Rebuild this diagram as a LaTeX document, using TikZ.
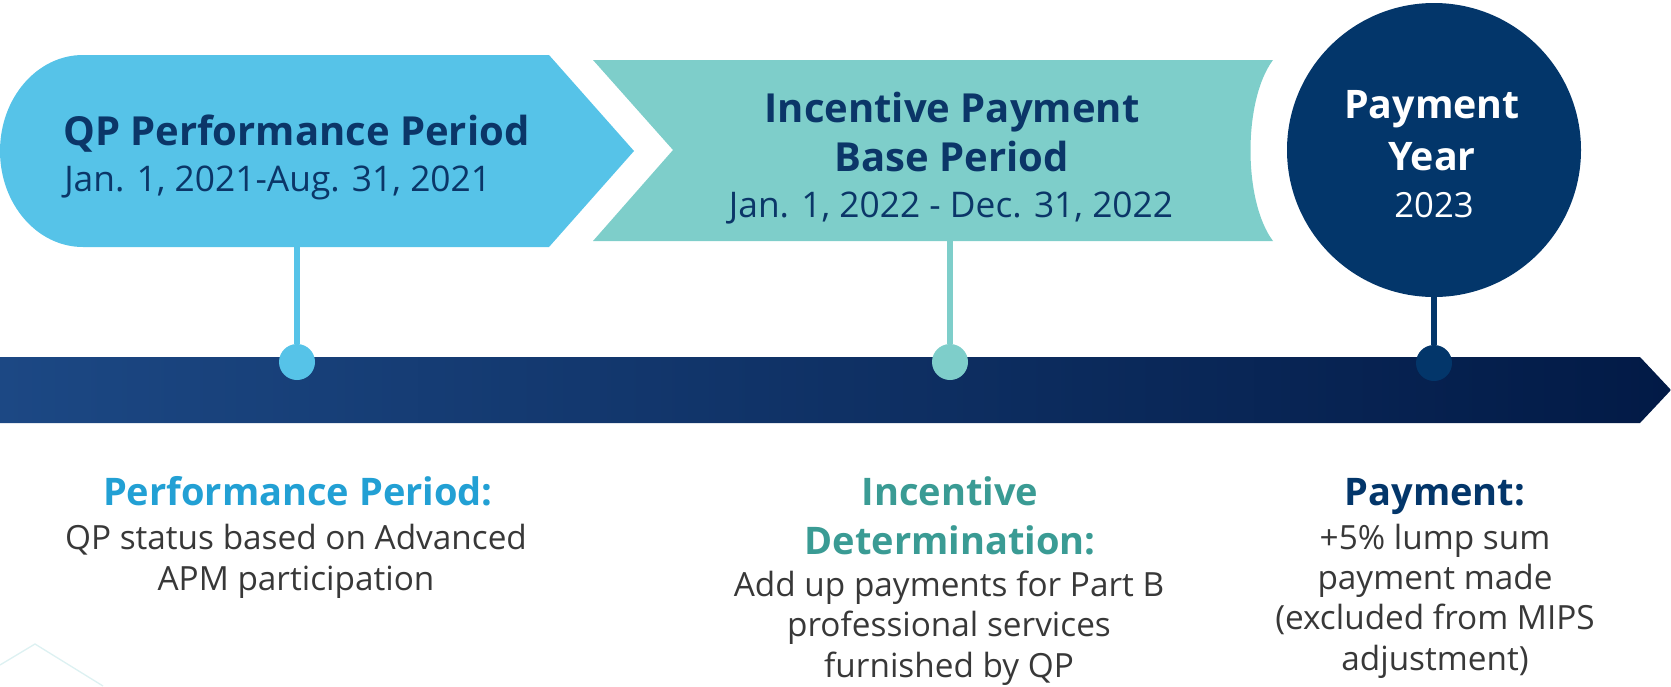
\documentclass[tikz,border=0pt]{standalone}
\usepackage{fontspec}
\setmainfont{Open Sans}
\usepackage{tikz}
\usetikzlibrary{positioning}

\definecolor{qpblue}{HTML}{56C3E8}
\definecolor{baseteal}{HTML}{7ECECA}
\definecolor{paynavy}{HTML}{03366A}
\definecolor{titlenavy}{HTML}{0B3668}
\definecolor{labelblue}{HTML}{22A0D4}
\definecolor{labelteal}{HTML}{3A9B94}
\definecolor{bodygray}{HTML}{383838}
\definecolor{barleft}{HTML}{1C4884}
\definecolor{barright}{HTML}{021A46}
\definecolor{hexline}{HTML}{DDF1F2}

\tikzset{
  stem/.style={line width=5pt},
  dot/.style={circle, fill=#1, minimum size=27pt, inner sep=0pt},
  headtext/.style={inner sep=0pt, align=center, text=titlenavy,
    font=\fontsize{30}{36.75}\selectfont\bfseries},
  datetext/.style={inner sep=0pt, text=titlenavy,
    font=\fontsize{26.5}{32}\selectfont},
  labeltext/.style={inner sep=0pt, align=center,
    font=\fontsize{28.5}{36.75}\selectfont\bfseries},
  bodytext/.style={inner sep=0pt, align=center, text=bodygray,
    font=\fontsize{25}{30.2}\selectfont}
}

\begin{document}
\begin{tikzpicture}[x=0.75pt, y=-0.75pt]
  \useasboundingbox (0,0) rectangle (1671,686);

  % hexagon fragment, bottom left
  \draw [hexline, line width=1pt] (0,665) -- (35,644) -- (103,686);

  % timeline bar
  \shade [left color=barleft, right color=barright]
    (0,357) -- (1640,357) -- (1671,390) -- (1640,423) -- (0,423) -- cycle;

  % period shapes
  \fill [qpblue] (83,55) -- (549,55) -- (634,151) -- (549,247) -- (83,247)
    .. controls (37,247) and (0,204) .. (0,151)
    .. controls (0,98) and (37,55) .. (83,55);
  \fill [baseteal] (593,60) -- (1273,60) .. controls (1243,100) and (1243,201) .. (1273,241)
    -- (593,241) -- (673,150) -- cycle;
  \node [circle, fill=paynavy, minimum size=220.5pt, inner sep=0pt] (payCircle) at (1434,150) {};

  \coordinate (qpBase) at (297,247);
  \coordinate (ipBase) at (950,241);

  \node [dot=qpblue] (qpDot) at (297,362) {};
  \node [dot=baseteal] (ipDot) at (950,362) {};
  \node [dot=paynavy] (payDot) at (1434,363) {};

  \draw [stem, qpblue] (qpBase) -- (qpDot);
  \draw [stem, baseteal] (ipBase) -- (ipDot);
  \draw [stem, paynavy] (payCircle.south) -- (payDot);

  % texts in the shapes (base = last line)
  \node [headtext, anchor=base west] (qpTitle) at (63,145) {QP Performance Period};
  \node [datetext, anchor=base west] (qpDates) at (64,191) {Jan. 1, 2021-Aug. 31, 2021};
  \node [headtext, anchor=base] (ipTitle) at (952,171) {Incentive Payment\\Base Period};
  \node [datetext, anchor=base] (ipDates) at (951,217) {Jan. 1, 2022 - Dec. 31, 2022};
  \node [headtext, text=white, font=\fontsize{29.5}{39}\selectfont\bfseries, anchor=base] (payTitle) at (1432,170) {Payment\\Year};
  \node [datetext, text=white, font=\fontsize{26}{30}\selectfont, anchor=base] (payYear) at (1434,217) {2023};

  % texts below the bar
  \node [labeltext, text=labelblue, anchor=base] (perfLabel) at (298,505) {Performance Period:};
  \node [bodytext, anchor=base] (perfBody) at (296,590) {QP status based on Advanced\\APM participation};
  \node [labeltext, text=labelteal, anchor=base] (incLabel) at (950,554) {Incentive\\Determination:};
  \node [bodytext, anchor=base] (incBody) at (949,677) {Add up payments for Part B\\professional services\\furnished by QP};
  \node [labeltext, text=paynavy, anchor=base] (payLabel) at (1435,505) {Payment:};
  \node [bodytext, anchor=base] (payBody) at (1435,670) {+5\% lump sum\\payment made\\(excluded from MIPS\\adjustment)};
\end{tikzpicture}
\end{document}
